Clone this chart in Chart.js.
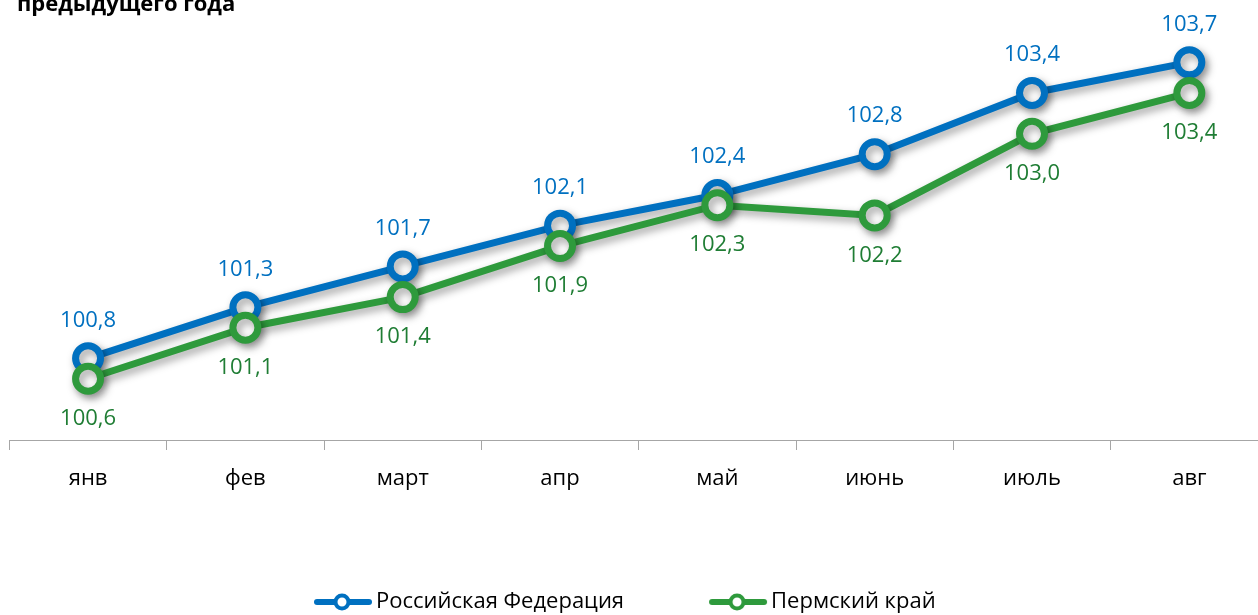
<!DOCTYPE html>
<html><head><meta charset="utf-8">
<script src="https://cdn.jsdelivr.net/npm/chart.js@4"></script>
<style>
html,body{margin:0;padding:0;background:#fff;overflow:hidden;}
#wrap{position:relative;width:1258px;height:615px;overflow:hidden;background:#fff;}
#box{position:absolute;left:0;top:0;width:1268px;height:623px;}
</style></head><body>
<div id="wrap"><div id="box"><canvas id="c" width="1268" height="623"></canvas></div></div>
<script>
const categories = ['янв', 'фев', 'март', 'апр', 'май', 'июнь', 'июль', 'авг'];
const seriesNames = ['Российская Федерация', 'Пермский край'];
const russiaValues = [100.8, 101.3, 101.7, 102.1, 102.4, 102.8, 103.4, 103.7];
const permValues = [100.6, 101.1, 101.4, 101.9, 102.3, 102.2, 103.0, 103.4];
const titleText = 'предыдущего года';
const yMin = 100, yMax = 104;

const BLUE = '#0070c0', GREEN = '#2e9a3c';
const labelColors = ['#0070c0', '#1f7d34'];
const FONT = '"Open Sans", "Noto Sans", sans-serif';

function makeIcon(color) {
  const c = document.createElement('canvas'); c.width = 60; c.height = 22;
  const g = c.getContext('2d');
  g.strokeStyle = color; g.lineWidth = 6; g.lineCap = 'round';
  g.beginPath(); g.moveTo(4, 11); g.lineTo(56, 11); g.stroke();
  g.beginPath(); g.arc(29, 11, 6.5, 0, Math.PI * 2);
  g.fillStyle = '#fff'; g.fill(); g.lineWidth = 4; g.stroke();
  return c;
}
const icons = [makeIcon(BLUE), makeIcon(GREEN)];

const mctx = document.createElement('canvas').getContext('2d');
mctx.font = '22px ' + FONT;
const w1 = mctx.measureText(seriesNames[0]).width;
const legendPad = Math.max(20, Math.round(340 - w1));

const fmt = v => v.toFixed(1).replace('.', ',');

const shadowPlugin = {
  id: 'shadow',
  beforeDatasetDraw(chart) {
    const ctx = chart.ctx; ctx.save();
    ctx.shadowColor = 'rgba(0,0,0,0.38)'; ctx.shadowBlur = 8;
    ctx.shadowOffsetX = 3; ctx.shadowOffsetY = 4;
  },
  afterDatasetDraw(chart) { chart.ctx.restore(); }
};

const labelPlugin = {
  id: 'valueLabels',
  afterDatasetsDraw(chart) {
    const ctx = chart.ctx; ctx.save();
    ctx.font = '22px ' + FONT; ctx.textAlign = 'center'; ctx.textBaseline = 'middle';
    chart.data.datasets.forEach((ds, i) => {
      const meta = chart.getDatasetMeta(i);
      const off = i === 0 ? -38 : 40;
      ctx.fillStyle = labelColors[i];
      meta.data.forEach((pt, j) => ctx.fillText(fmt(ds.data[j]), pt.x, pt.y + off));
    });
    ctx.restore();
  }
};

const titlePlugin = {
  id: 'cutTitle',
  afterDraw(chart) {
    const ctx = chart.ctx; ctx.save();
    ctx.font = 'bold 22px ' + FONT; ctx.fillStyle = '#000';
    ctx.textAlign = 'left'; ctx.textBaseline = 'alphabetic';
    ctx.fillText(titleText, 17, 11);
    ctx.restore();
  }
};

const legendShift = {
  id: 'legendShift',
  afterLayout(chart) {
    const lg = chart.legend; if (!lg || !lg.lineWidths) return;
    const p = lg.options.labels.padding;
    const start = (lg.left + p + lg.right - lg.lineWidths[0]) / 2;
    const d = 321 - start; lg.left += d; lg.right += d;
  }
};

new Chart(document.getElementById('c'), {
  type: 'line',
  data: {
    labels: categories,
    datasets: [
      { label: seriesNames[0], data: russiaValues, borderColor: BLUE, borderWidth: 7,
        pointRadius: 12.5, pointHoverRadius: 12.5, pointBorderWidth: 7, pointHoverBorderWidth: 7,
        pointBackgroundColor: '#fff', pointBorderColor: BLUE, tension: 0, order: 1, clip: false },
      { label: seriesNames[1], data: permValues, borderColor: GREEN, borderWidth: 7,
        pointRadius: 12.5, pointHoverRadius: 12.5, pointBorderWidth: 7, pointHoverBorderWidth: 7,
        pointBackgroundColor: '#fff', pointBorderColor: GREEN, tension: 0, order: 0, clip: false }
    ]
  },
  options: {
    responsive: false, animation: false, devicePixelRatio: 1, events: [],
    layout: { autoPadding: false, padding: { left: 9.4, right: 0, top: 31.7, bottom: 0 } },
    scales: {
      x: {
        offset: true,
        grid: { display: true, drawOnChartArea: false, drawTicks: true, tickLength: 10, offset: true, color: '#a6a6a6', lineWidth: 1 },
        border: { display: true, color: '#a6a6a6', width: 1 },
        ticks: { font: { family: FONT, size: 22 }, color: '#000', padding: 16, maxRotation: 0, autoSkip: false },
        afterFit: s => { s.height = 151 - legendPad; }
      },
      y: { display: false, min: yMin, max: yMax }
    },
    plugins: {
      title: { display: false },
      tooltip: { enabled: false },
      legend: {
        display: true, position: 'bottom',
        labels: {
          usePointStyle: true, pointStyleWidth: 44, padding: legendPad,
          font: { family: FONT, size: 22 }, color: '#000',
          generateLabels(chart) {
            const items = Chart.defaults.plugins.legend.labels.generateLabels(chart);
            items.forEach(it => { it.pointStyle = icons[it.datasetIndex]; });
            return items.sort((a, b) => a.datasetIndex - b.datasetIndex);
          }
        }
      }
    }
  },
  plugins: [shadowPlugin, labelPlugin, titlePlugin, legendShift]
});
</script>
</body></html>
